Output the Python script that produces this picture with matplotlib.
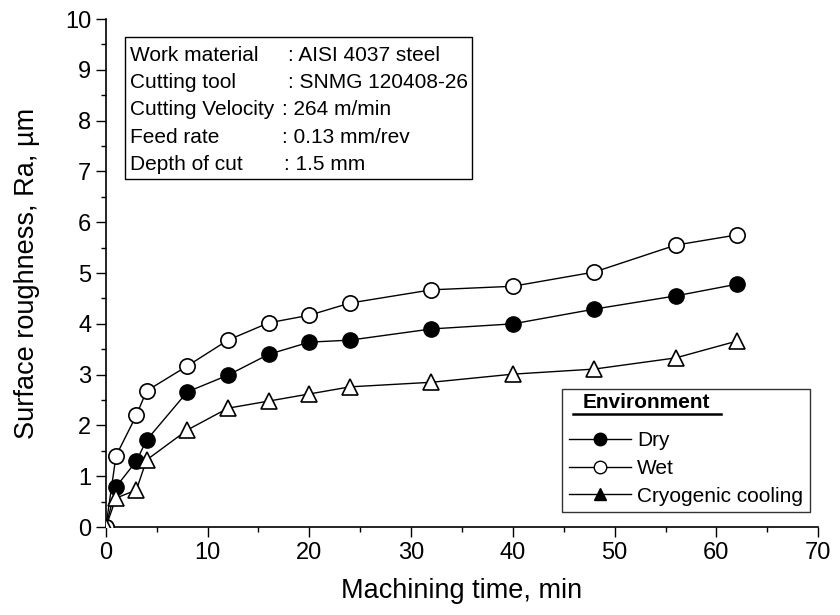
import numpy as np
import matplotlib.pyplot as plt
from matplotlib.ticker import MultipleLocator
from matplotlib.lines import Line2D

plt.rcParams['font.family'] = ['Liberation Sans', 'DejaVu Sans']

## Data
time_min = [0, 1, 3, 4, 8, 12, 16, 20, 24, 32, 40, 48, 56, 62]
ra_dry = [0, 0.79, 1.3, 1.71, 2.66, 2.99, 3.4, 3.64, 3.68, 3.9, 4.0, 4.29, 4.55, 4.78]
ra_wet = [0, 1.4, 2.2, 2.68, 3.17, 3.68, 4.02, 4.17, 4.41, 4.67, 4.74, 5.02, 5.55, 5.75]
ra_cryo = [0, 0.57, 0.73, 1.32, 1.91, 2.34, 2.48, 2.62, 2.76, 2.85, 3.01, 3.11, 3.33, 3.66]

info_labels = ["Work material", "Cutting tool", "Cutting Velocity", "Feed rate", "Depth of cut"]
info_values = [": AISI 4037 steel", ": SNMG 120408-26", ": 264 m/min", ": 0.13 mm/rev", ": 1.5 mm"]
legend_labels = ["Dry", "Wet", "Cryogenic cooling"]

fig = plt.figure(figsize=(8.4, 6.15), dpi=100)
ax = fig.add_axes([0.126, 0.143, 0.848, 0.826])

ax.plot(time_min, ra_dry, '-o', color='black', lw=1, ms=11, mfc='black', mec='black', zorder=3)
ax.plot(time_min, ra_wet, '-o', color='black', lw=1, ms=11, mfc='white', mec='black', mew=1.2, zorder=3)
ax.plot(time_min, ra_cryo, '-^', color='black', lw=1, ms=12, mfc='white', mec='black', mew=1.2, zorder=3)

ax.set_xlim(0, 70)
ax.set_ylim(0, 10)
ax.xaxis.set_major_locator(MultipleLocator(10))
ax.xaxis.set_minor_locator(MultipleLocator(5))
ax.yaxis.set_major_locator(MultipleLocator(1))
ax.yaxis.set_minor_locator(MultipleLocator(0.5))
ax.tick_params(which='major', length=7, width=1, labelsize=17, direction='out')
ax.tick_params(which='minor', length=3.5, width=1, direction='out')
ax.spines['top'].set_visible(False)
ax.spines['right'].set_visible(False)
ax.spines['left'].set_linewidth(1.2)
ax.spines['bottom'].set_linewidth(1.2)
ax.set_xlabel('Machining time, min', fontsize=19.5, labelpad=10)
ax.set_ylabel('Surface roughness, Ra, µm', fontsize=19.5, labelpad=18)

## Info box with cutting conditions
box = plt.Rectangle((0.027, 0.685), 0.487, 0.28, transform=ax.transAxes,
                    fill=False, lw=1, ec='black', zorder=4)
ax.add_patch(box)
val_x = [0.256, 0.256, 0.248, 0.247, 0.25]
for i, (lab, val) in enumerate(zip(info_labels, info_values)):
    yy = 0.929 - i * 0.054
    ax.text(0.034, yy, lab, transform=ax.transAxes, fontsize=15, va='center')
    ax.text(val_x[i], yy, val, transform=ax.transAxes, fontsize=15, va='center')

## Legend (cryogenic symbol is filled in the legend of the original)
handles = [
    Line2D([], [], color='black', lw=1, marker='o', ms=9, mfc='black', mec='black'),
    Line2D([], [], color='black', lw=1, marker='o', ms=9, mfc='white', mec='black'),
    Line2D([], [], color='black', lw=1, marker='^', ms=9, mfc='black', mec='black'),
]
leg = ax.legend(handles, legend_labels, loc='lower right', bbox_to_anchor=(0.988, 0.03),
                fontsize=15, frameon=True, fancybox=False, edgecolor='black',
                handlelength=3.0, handletextpad=0.3, borderpad=0.3, labelspacing=0.42,
                borderaxespad=0, title='Environment')
leg.get_frame().set_linewidth(1)
plt.setp(leg.get_title(), fontweight='bold', fontsize=15)
leg._legend_box.align = 'left'
leg._legend_box.sep = 12
leg.get_title().set_position((14, 2))
fig.canvas.draw()
tb = leg.get_title().get_window_extent()
inv = fig.transFigure.inverted()
(x0, y0), (x1, y1) = inv.transform([(tb.x0 - 10, tb.y0 - 2), (tb.x1 + 11, tb.y0 - 2)])
fig.add_artist(plt.Line2D([x0, x1], [y0, y1], color='black', lw=1.8))

fig.savefig('out.png', dpi=100)
